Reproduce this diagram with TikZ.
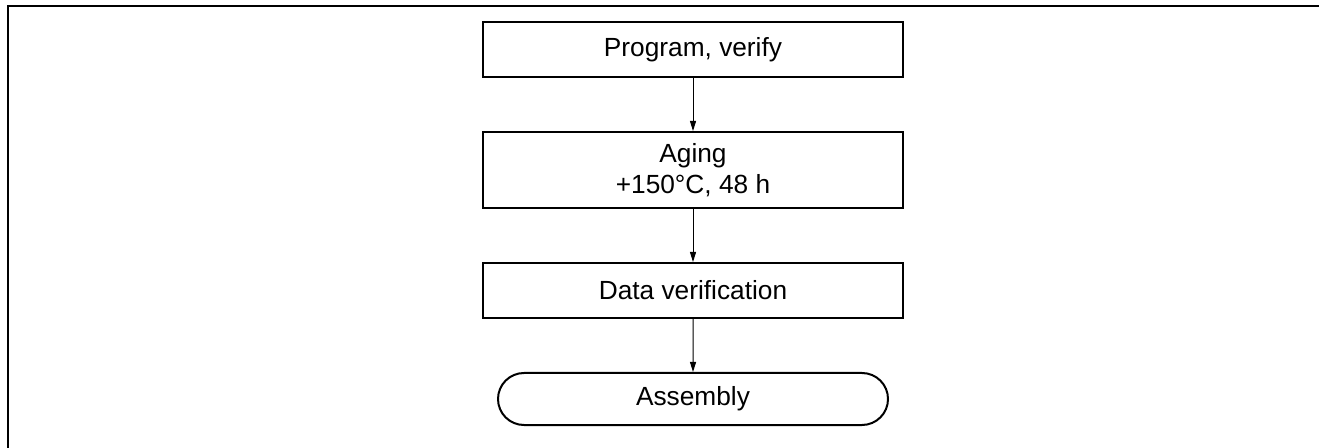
\documentclass[tikz,border=0pt]{standalone}
\usepackage{fontspec}
\setmainfont{Liberation Sans}
\usetikzlibrary{arrows.meta,shapes.misc}
\begin{document}
\begin{tikzpicture}[x=0.75pt,y=-0.75pt,
  stepbox/.style={draw,line width=1.5pt,minimum width=314.6pt,inner sep=0pt,align=center,
    font=\fontsize{19.7pt}{23pt}\selectfont},
  termbox/.style={draw,line width=1.5pt,rounded rectangle,minimum width=292.5pt,minimum height=39pt,inner sep=0pt,
    font=\fontsize{19.7pt}{23pt}\selectfont},
  flow/.style={line width=0.75pt,-{Triangle[length=7.5pt,width=4.5pt]}}]
\useasboundingbox (0,0) rectangle (1319,448);
\coordinate (frameTR) at (1319,6);
\coordinate (frameTL) at (8,6);
\coordinate (frameBL) at (8,448);
\draw[line width=1.5pt] (frameTR) -- (frameTL) -- (frameBL);
\node[stepbox,minimum height=41.25pt] (prog) at (693,50) {Program, verify};
\node[stepbox,minimum height=57pt] (aging) at (693,170) {Aging\\+150\textdegree C, 48 h};
\node[stepbox,minimum height=41.25pt] (data) at (693,290.5) {Data verification};
\node[termbox] (asm) at (693,399) {Assembly};
\draw[flow] (prog) -- (aging);
\draw[flow] (aging) -- (data);
\draw[flow] (data) -- (asm);
\end{tikzpicture}
\end{document}
